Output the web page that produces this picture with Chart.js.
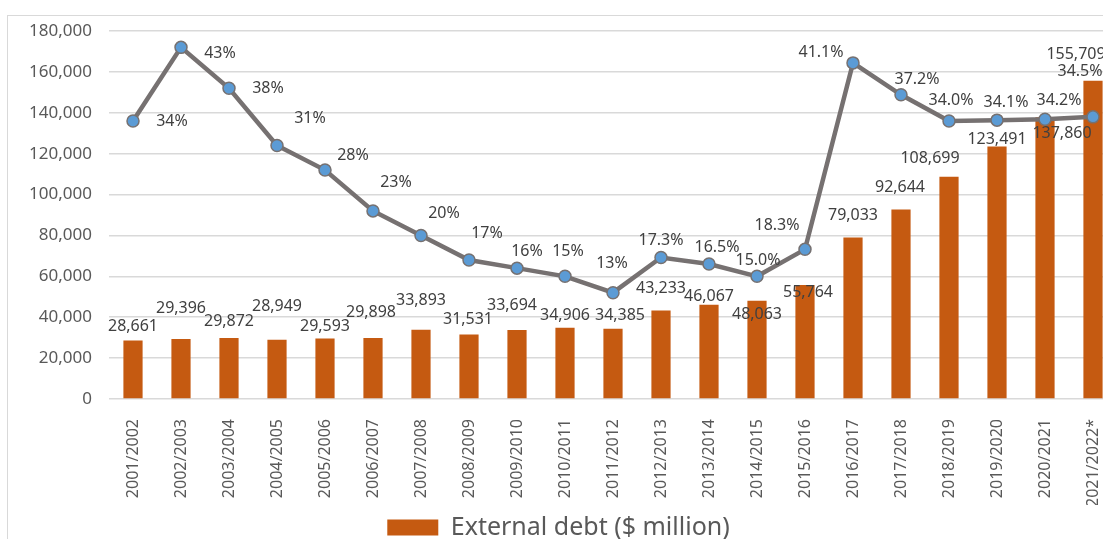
<!DOCTYPE html>
<html>
<head>
<meta charset="utf-8">
<title>External debt</title>
<script src="https://cdn.jsdelivr.net/npm/chart.js@4.4.0/dist/chart.umd.min.js"></script>
<style>
  body { margin: 0; background: #fff; overflow: hidden; }
  #wrap { position: absolute; left: 0; top: 0; }
</style>
</head>
<body>
<div id="wrap"><canvas id="debtChart" width="1130" height="550"></canvas></div>
<script>
// fiscal years
var periods = ['2001/2002', '2002/2003', '2003/2004', '2004/2005', '2005/2006', '2006/2007', '2007/2008',
  '2008/2009', '2009/2010', '2010/2011', '2011/2012', '2012/2013', '2013/2014', '2014/2015', '2015/2016',
  '2016/2017', '2017/2018', '2018/2019', '2019/2020', '2020/2021', '2021/2022*'];

// external debt, $ million
var debtValues = [28661, 29396, 29872, 28949, 29593, 29898, 33893, 31531, 33694, 34906, 34385,
  43233, 46067, 48063, 55764, 79033, 92644, 108699, 123491, 137860, 155709];

// debt in % (second series, drawn as a line)
var debtShares = [34, 43, 38, 31, 28, 23, 20, 17, 16, 15, 13,
  17.3, 16.5, 15.0, 18.3, 41.1, 37.2, 34.0, 34.1, 34.2, 34.5];

// left axis ticks
var yTicks = [0, 20000, 40000, 60000, 80000, 100000, 120000, 140000, 160000, 180000];

// label nudges (px) so the numbers don't sit on top of each other
var barShiftX = [0, 0, 0, 0, 0, -2, 0, -1, -5, 0, 7, 0, 0, 0, 3, 0, -1, -19, 0, 17, -17];
var barShiftY = [-14, -30, -16, -33, -12, -25, -29, -15, -25, -12, -13, -22, -8, 14, 7, -22, -22, -18, -7, 16, -26];
var lineShiftX = [39, 39, 39, 33, 28, 23, 23, 18, 10, 3, -1, 0, 8, 1, -28, -32, 16, 2, 9, 14, -13];
var lineShiftY = [0, 6, 0, -27, -15, -28, -22, -27, -17, -25, -29, -17, -17, -16, -24, -10, -15, -21, -18, -19, -45];

var FONT = '"Noto Sans", "DejaVu Sans", sans-serif';

function shareLabel(i) {
  // older years are whole numbers, from 2012/2013 on one decimal
  return i < 11 ? debtShares[i] + '%' : debtShares[i].toFixed(1) + '%';
}

// white background + light frame
var frame = {
  id: 'frame',
  beforeDraw: function(chart) {
    var ctx = chart.ctx;
    ctx.save();
    ctx.fillStyle = '#ffffff';
    ctx.fillRect(0, 0, chart.width, chart.height);
    ctx.strokeStyle = '#d9d9d9';
    ctx.lineWidth = 1;
    ctx.strokeRect(7.5, 15.5, chart.width + 20, chart.height + 20);
    ctx.restore();
  }
};

var valueLabels = {
  id: 'valueLabels',
  afterDatasetsDraw: function(chart) {
    var ctx = chart.ctx;
    ctx.save();
    ctx.font = '16px ' + FONT;
    ctx.fillStyle = '#404040';
    ctx.textAlign = 'center';
    ctx.textBaseline = 'middle';
    chart.getDatasetMeta(1).data.forEach(function(bar, i) {
      ctx.fillText(debtValues[i].toLocaleString('en-US'), bar.x + barShiftX[i], bar.y + barShiftY[i]);
    });
    chart.getDatasetMeta(0).data.forEach(function(pt, i) {
      ctx.fillText(shareLabel(i), pt.x + lineShiftX[i], pt.y + lineShiftY[i]);
    });
    ctx.restore();
  }
};

var debtChart = new Chart(document.getElementById('debtChart').getContext('2d'), {
  type: 'bar',
  data: {
    labels: periods,
    datasets: [{
      type: 'line',
      label: 'Debt %',
      data: debtShares,
      yAxisID: 'y1',
      borderColor: '#767171',
      borderWidth: 4.5,
      pointRadius: 6,
      pointBackgroundColor: '#5b9bd5',
      pointBorderColor: '#767171',
      pointBorderWidth: 1.5,
      tension: 0,
      order: 0
    }, {
      type: 'bar',
      label: 'External debt ($ million)',
      data: debtValues,
      yAxisID: 'y',
      backgroundColor: '#c55a11',
      borderWidth: 0,
      barPercentage: 0.4,
      categoryPercentage: 1,
      order: 1
    }]
  },
  options: {
    responsive: false,
    animation: false,
    layout: { padding: { top: 31, right: 13, bottom: 0, left: 0 } },
    plugins: {
      legend: {
        position: 'bottom',
        labels: {
          filter: function(item) { return item.datasetIndex === 1; },
          boxWidth: 51,
          boxHeight: 16,
          padding: 10,
          color: '#595959',
          font: { family: FONT, size: 25 }
        }
      },
      tooltip: { enabled: false }
    },
    scales: {
      x: {
        offset: true,
        grid: { display: false },
        border: { display: false },
        ticks: {
          color: '#595959',
          font: { family: FONT, size: 16 },
          minRotation: 90,
          maxRotation: 90,
          padding: 12,
          autoSkip: false
        },
        afterFit: function(scale) { scale.height = 106; }
      },
      y: {
        min: yTicks[0],
        max: yTicks[yTicks.length - 1],
        afterBuildTicks: function(scale) {
          scale.ticks = yTicks.map(function(v) { return { value: v }; });
        },
        grid: { color: '#d9d9d9', lineWidth: 1.5, drawTicks: false },
        border: { display: false },
        ticks: {
          color: '#595959',
          font: { family: FONT, size: 17 },
          padding: 17,
          callback: function(v) { return v.toLocaleString('en-US'); }
        },
        afterFit: function(scale) { scale.width = 109; }
      },
      y1: {
        display: false,
        min: 0,
        max: 45
      }
    }
  },
  plugins: [frame, valueLabels]
});
</script>
</body>
</html>
